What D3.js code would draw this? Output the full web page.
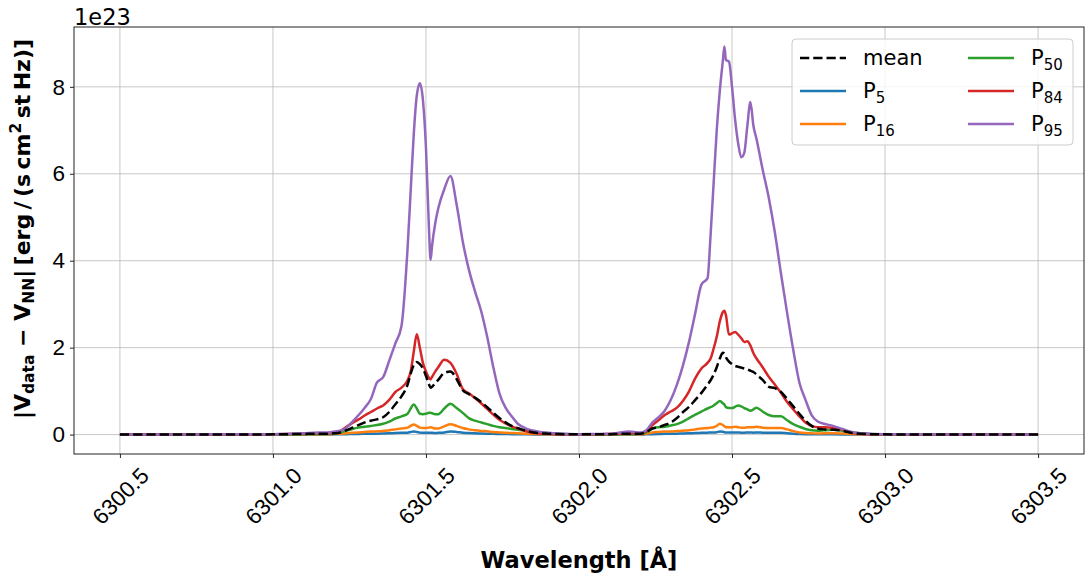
<!DOCTYPE html>
<html>
<head>
<meta charset="utf-8">
<script src="https://cdn.jsdelivr.net/npm/d3@7"></script>
<style>
  html, body { margin: 0; padding: 0; background: #fff; }
  svg { display: block; font-family: "DejaVu Sans", sans-serif; }
</style>
</head>
<body>
<svg id="chart" width="1086" height="577"></svg>
<script>
// Wavelength grid [Å]
const wavelength = [
  6300.50, 6300.70, 6300.90, 6301.00, 6301.10, 6301.15,
  6301.18, 6301.20, 6301.22, 6301.24, 6301.26, 6301.28, 6301.30, 6301.32, 6301.34, 6301.36, 6301.38, 6301.40, 6301.42,
  6301.44, 6301.45, 6301.46, 6301.47, 6301.48, 6301.49, 6301.50, 6301.51, 6301.515, 6301.52, 6301.53, 6301.54,
  6301.56, 6301.58, 6301.60, 6301.62, 6301.64, 6301.66, 6301.68, 6301.70, 6301.72, 6301.74, 6301.76, 6301.78, 6301.80,
  6301.83, 6301.86, 6301.90, 6301.95, 6302.00, 6302.05, 6302.10, 6302.13, 6302.16, 6302.18,
  6302.20, 6302.22, 6302.24, 6302.26, 6302.28, 6302.30, 6302.32, 6302.34, 6302.36, 6302.38, 6302.40,
  6302.42, 6302.43, 6302.44, 6302.45, 6302.46, 6302.47, 6302.475, 6302.48, 6302.49, 6302.50, 6302.51, 6302.52,
  6302.53, 6302.54, 6302.55, 6302.56, 6302.57, 6302.58, 6302.60, 6302.62, 6302.64, 6302.66, 6302.68, 6302.70,
  6302.72, 6302.74, 6302.76, 6302.78, 6302.80, 6302.83, 6302.86, 6302.90, 6302.95, 6303.00, 6303.10, 6303.30, 6303.50
];

// |V_data - V_NN| in units of 1e23 erg/(s cm^2 st Hz)
const meanVals = [
  0, 0, 0, 0.005, 0.015, 0.02,
  0.02, 0.03, 0.05, 0.10, 0.16, 0.22, 0.28, 0.32, 0.35, 0.40, 0.52, 0.70, 0.88,
  1.15, 1.40, 1.60, 1.67, 1.62, 1.52, 1.35, 1.15, 1.08, 1.10, 1.18, 1.26,
  1.42, 1.45, 1.28, 1.02, 0.93, 0.85, 0.75, 0.63, 0.50, 0.38, 0.28, 0.20, 0.15,
  0.08, 0.04, 0.02, 0.01, 0.01, 0.01, 0.01, 0.015, 0.02, 0.02,
  0.02, 0.06, 0.14, 0.17, 0.22, 0.28, 0.38, 0.52, 0.64, 0.80, 0.96,
  1.15, 1.25, 1.38, 1.55, 1.75, 1.88, 1.87, 1.78, 1.68, 1.62, 1.58, 1.56,
  1.54, 1.52, 1.50, 1.47, 1.44, 1.38, 1.26, 1.10, 1.07, 0.98, 0.82, 0.65,
  0.48, 0.32, 0.20, 0.14, 0.12, 0.11, 0.09, 0.03, 0.01, 0.005, 0, 0, 0
];

const p5Vals = [
  0, 0, 0, 0, 0, 0,
  0, 0.005, 0.008, 0.01, 0.012, 0.015, 0.018, 0.02, 0.022, 0.025, 0.03, 0.035, 0.04,
  0.045, 0.06, 0.07, 0.06, 0.045, 0.04, 0.04, 0.04, 0.04, 0.04, 0.035, 0.04,
  0.05, 0.07, 0.06, 0.045, 0.035, 0.03, 0.025, 0.02, 0.017, 0.014, 0.012, 0.01, 0.008,
  0.005, 0.003, 0.002, 0, 0, 0, 0, 0, 0, 0,
  0, 0.005, 0.01, 0.015, 0.018, 0.02, 0.022, 0.025, 0.03, 0.035, 0.04,
  0.045, 0.05, 0.05, 0.055, 0.07, 0.065, 0.055, 0.05, 0.05, 0.05, 0.05, 0.048,
  0.045, 0.045, 0.048, 0.048, 0.045, 0.05, 0.045, 0.04, 0.04, 0.04, 0.03, 0.02,
  0.012, 0.008, 0.006, 0.005, 0.005, 0.005, 0.004, 0.002, 0, 0, 0, 0, 0
];

const p16Vals = [
  0, 0, 0, 0, 0.005, 0.01,
  0.01, 0.015, 0.02, 0.03, 0.04, 0.05, 0.06, 0.07, 0.075, 0.08, 0.10, 0.12, 0.14,
  0.16, 0.20, 0.23, 0.20, 0.16, 0.15, 0.15, 0.16, 0.17, 0.16, 0.14, 0.14,
  0.19, 0.24, 0.20, 0.15, 0.12, 0.10, 0.085, 0.075, 0.06, 0.05, 0.04, 0.035, 0.03,
  0.02, 0.015, 0.01, 0.005, 0.005, 0.005, 0.005, 0.005, 0.005, 0.005,
  0.005, 0.02, 0.05, 0.06, 0.07, 0.07, 0.08, 0.09, 0.10, 0.12, 0.14,
  0.15, 0.16, 0.17, 0.20, 0.25, 0.22, 0.19, 0.17, 0.17, 0.17, 0.18, 0.17,
  0.16, 0.16, 0.17, 0.17, 0.17, 0.18, 0.16, 0.15, 0.15, 0.15, 0.12, 0.08,
  0.05, 0.035, 0.03, 0.025, 0.03, 0.03, 0.025, 0.01, 0.005, 0, 0, 0, 0
];

const p50Vals = [
  0, 0, 0, 0, 0.01, 0.015,
  0.02, 0.03, 0.05, 0.09, 0.13, 0.16, 0.18, 0.20, 0.22, 0.25, 0.30, 0.37, 0.42,
  0.48, 0.60, 0.69, 0.60, 0.48, 0.47, 0.48, 0.50, 0.50, 0.49, 0.47, 0.47,
  0.60, 0.71, 0.61, 0.50, 0.38, 0.32, 0.28, 0.24, 0.20, 0.17, 0.15, 0.13, 0.11,
  0.09, 0.06, 0.03, 0.015, 0.01, 0.01, 0.01, 0.01, 0.015, 0.015,
  0.02, 0.05, 0.14, 0.17, 0.18, 0.21, 0.24, 0.30, 0.38, 0.46, 0.53,
  0.60, 0.63, 0.67, 0.72, 0.77, 0.72, 0.69, 0.63, 0.61, 0.61, 0.64, 0.67,
  0.65, 0.61, 0.58, 0.55, 0.58, 0.62, 0.53, 0.45, 0.42, 0.42, 0.33, 0.24,
  0.18, 0.13, 0.10, 0.09, 0.10, 0.11, 0.09, 0.04, 0.015, 0.005, 0, 0, 0
];

const p84Vals = [
  0, 0, 0, 0.005, 0.02, 0.03,
  0.03, 0.04, 0.08, 0.18, 0.27, 0.35, 0.44, 0.52, 0.60, 0.67, 0.80, 0.98, 1.08,
  1.25, 1.45, 1.90, 2.31, 2.00, 1.65, 1.45, 1.30, 1.27, 1.33, 1.45, 1.55,
  1.72, 1.65, 1.40, 1.05, 0.95, 0.84, 0.72, 0.59, 0.46, 0.34, 0.26, 0.19, 0.14,
  0.07, 0.03, 0.02, 0.01, 0.01, 0.01, 0.015, 0.02, 0.03, 0.03,
  0.03, 0.08, 0.22, 0.33, 0.45, 0.53, 0.62, 0.78, 1.00, 1.30, 1.52,
  1.65, 1.75, 1.98, 2.25, 2.60, 2.82, 2.85, 2.75, 2.30, 2.33, 2.36, 2.30,
  2.22, 2.13, 2.15, 2.05, 1.87, 1.75, 1.55, 1.33, 1.15, 0.96, 0.75, 0.58,
  0.42, 0.28, 0.20, 0.17, 0.17, 0.16, 0.11, 0.03, 0.01, 0.005, 0, 0, 0
];

const p95Vals = [
  0, 0, 0.005, 0.01, 0.03, 0.05,
  0.05, 0.07, 0.09, 0.16, 0.30, 0.45, 0.62, 0.82, 1.20, 1.32, 1.70, 2.10, 2.50,
  4.30, 5.60, 6.90, 7.80, 8.08, 7.70, 6.60, 4.70, 4.02, 4.35, 4.85, 5.20,
  5.65, 5.95, 5.30, 4.45, 3.80, 3.30, 2.85, 2.25, 1.55, 0.95, 0.62, 0.42, 0.25,
  0.13, 0.08, 0.04, 0.02, 0.01, 0.015, 0.02, 0.04, 0.07, 0.06,
  0.05, 0.10, 0.28, 0.40, 0.55, 0.80, 1.15, 1.60, 2.15, 2.80, 3.45,
  3.60, 4.60, 5.80, 7.00, 7.90, 8.60, 8.93, 8.62, 8.58, 8.00, 7.25, 6.70,
  6.38, 6.48, 7.10, 7.65, 7.10, 6.80, 6.10, 5.45, 4.65, 3.70, 2.80, 1.95,
  1.20, 0.80, 0.45, 0.30, 0.25, 0.20, 0.13, 0.05, 0.02, 0.01, 0.005, 0, 0
];

const xTicks = [6300.5, 6301.0, 6301.5, 6302.0, 6302.5, 6303.0, 6303.5];
const yTicks = [0, 2, 4, 6, 8];
const yExponentLabel = "1e23";

const series = [
  { key: "mean", sub: null, values: meanVals, color: "#000000", dash: "9.25,4" },
  { key: "P", sub: "5", values: p5Vals, color: "#1f77b4", dash: null },
  { key: "P", sub: "16", values: p16Vals, color: "#ff7f0e", dash: null },
  { key: "P", sub: "50", values: p50Vals, color: "#2ca02c", dash: null },
  { key: "P", sub: "84", values: p84Vals, color: "#d62728", dash: null },
  { key: "P", sub: "95", values: p95Vals, color: "#9467bd", dash: null }
];

// Layout
const plot = { left: 74, top: 27, right: 1084, bottom: 454 };
const tickFont = 22.5;

const xMin = d3.min(wavelength), xMax = d3.max(wavelength);
const xPad = (xMax - xMin) * 0.05;
const allVals = series.flatMap(s => s.values);
const yLo = d3.min(allVals), yHi = d3.max(allVals);
const yPad = (yHi - yLo) * 0.05;

const x = d3.scaleLinear().domain([xMin - xPad, xMax + xPad]).range([plot.left, plot.right]);
const y = d3.scaleLinear().domain([yLo - yPad, yHi + yPad]).range([plot.bottom, plot.top]);

const svg = d3.select("#chart");

svg.append("defs").append("clipPath").attr("id", "plot-clip")
  .append("rect")
  .attr("x", plot.left).attr("y", plot.top)
  .attr("width", plot.right - plot.left).attr("height", plot.bottom - plot.top);

// Grid
const grid = svg.append("g").attr("class", "grid");
grid.selectAll("line.gx").data(xTicks).join("line")
  .attr("x1", d => x(d)).attr("x2", d => x(d))
  .attr("y1", plot.top).attr("y2", plot.bottom)
  .attr("stroke", "#b0b0b0").attr("stroke-opacity", 0.7).attr("stroke-width", 1);
grid.selectAll("line.gy").data(yTicks).join("line")
  .attr("x1", plot.left).attr("x2", plot.right)
  .attr("y1", d => y(d)).attr("y2", d => y(d))
  .attr("stroke", "#b0b0b0").attr("stroke-opacity", 0.7).attr("stroke-width", 1);

// Axes
const xAxis = d3.axisBottom(x).tickValues(xTicks).tickFormat(d3.format(".1f")).tickSizeOuter(0).tickSize(4).tickPadding(4);
const yAxis = d3.axisLeft(y).tickValues(yTicks).tickFormat(d3.format("d")).tickSizeOuter(0).tickSize(4).tickPadding(5);

const gx = svg.append("g").attr("transform", `translate(0,${plot.bottom})`).call(xAxis);
gx.select(".domain").remove();
gx.selectAll(".tick line").attr("stroke", "#222");
gx.selectAll(".tick text")
  .attr("font-size", tickFont).attr("fill", "#000")
  .attr("text-anchor", "middle")
  .attr("y", 0).attr("dy", "0.35em")
  .attr("transform", "translate(0,42) rotate(-45)");

const gy = svg.append("g").attr("transform", `translate(${plot.left},0)`).call(yAxis);
gy.select(".domain").remove();
gy.selectAll(".tick line").attr("stroke", "#222");
gy.selectAll(".tick text").attr("font-size", tickFont).attr("fill", "#000");

// Series lines
const line = d3.line()
  .x((d, i) => x(wavelength[i]))
  .y(d => y(d))
  .curve(d3.curveMonotoneX);

const lines = svg.append("g").attr("clip-path", "url(#plot-clip)");
const drawOrder = [1, 2, 3, 4, 5, 0];
drawOrder.forEach(i => {
  const s = series[i];
  lines.append("path")
    .datum(s.values)
    .attr("d", line)
    .attr("fill", "none")
    .attr("stroke", s.color)
    .attr("stroke-width", 2.5)
    .attr("stroke-linejoin", "round")
    .attr("stroke-dasharray", s.dash);
});

// Frame
svg.append("rect")
  .attr("x", plot.left).attr("y", plot.top)
  .attr("width", plot.right - plot.left).attr("height", plot.bottom - plot.top)
  .attr("fill", "none").attr("stroke", "#222").attr("stroke-width", 1);

// Exponent label
svg.append("text")
  .attr("x", plot.left).attr("y", 25)
  .attr("font-size", tickFont).attr("fill", "#000")
  .text(yExponentLabel);

// Axis titles
svg.append("text")
  .attr("x", (plot.left + plot.right) / 2).attr("y", 568)
  .attr("text-anchor", "middle")
  .attr("font-size", 22.5).attr("font-weight", "bold").attr("fill", "#000")
  .text("Wavelength [Å]");

const thin = "\u2009";
const yt = svg.append("text")
  .attr("transform", `translate(30,229) rotate(-90)`)
  .attr("text-anchor", "middle")
  .attr("font-size", 22).attr("font-weight", "bold").attr("fill", "#000");
yt.append("tspan").text("|V");
yt.append("tspan").attr("font-size", 15.5).attr("dy", 4).text("data");
yt.append("tspan").attr("dy", -4).text(" − V");
yt.append("tspan").attr("font-size", 15.5).attr("dy", 4).text("NN");
yt.append("tspan").attr("dy", -4).text(`|${thin}[erg${thin}/${thin}(s${thin}cm`);
yt.append("tspan").attr("font-size", 15.5).attr("dy", -9).text("2");
yt.append("tspan").attr("dy", 9).text(`${thin}st${thin}Hz)]`);

// Legend
const leg = svg.append("g");
leg.append("rect")
  .attr("x", 792).attr("y", 39).attr("width", 281).attr("height", 106)
  .attr("rx", 4).attr("fill", "#fff").attr("fill-opacity", 0.8)
  .attr("stroke", "#cccccc").attr("stroke-width", 1);

series.forEach((s, i) => {
  const col = Math.floor(i / 3), row = i % 3;
  const lx = col === 0 ? 800 : 968;
  const ly = 58 + row * 33;
  leg.append("line")
    .attr("x1", lx).attr("x2", lx + 46).attr("y1", ly).attr("y2", ly)
    .attr("stroke", s.color).attr("stroke-width", 2.5)
    .attr("stroke-dasharray", s.dash);
  const t = leg.append("text")
    .attr("x", lx + 63).attr("y", ly + 7)
    .attr("font-size", 21).attr("fill", "#000");
  t.append("tspan").text(s.key);
  if (s.sub) t.append("tspan").attr("font-size", 15).attr("dy", 5).text(s.sub);
});
</script>
</body>
</html>
